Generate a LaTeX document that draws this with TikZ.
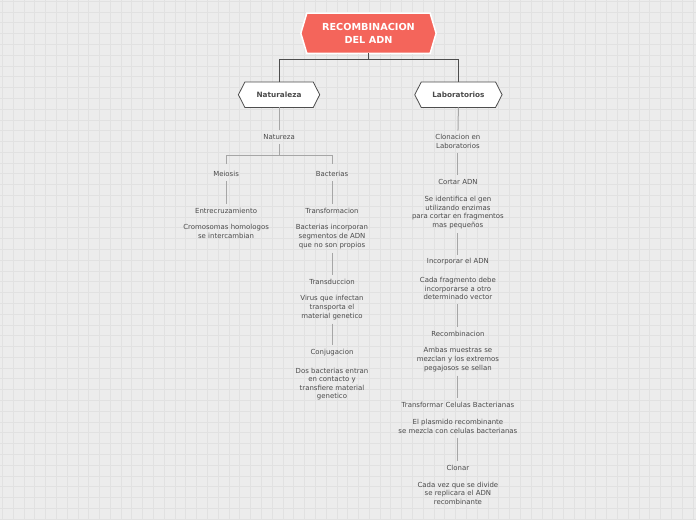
\documentclass[tikz,border=0pt]{standalone}
\usepackage{fontspec}
\setmainfont{DejaVu Sans}
\usetikzlibrary{backgrounds}
\definecolor{bgc}{HTML}{ECECEC}
\definecolor{gridc}{HTML}{E1E1E1}
\definecolor{txtc}{HTML}{4A4A4A}
\definecolor{linec}{HTML}{A6A6A6}
\definecolor{darkc}{HTML}{4D4D4D}
\definecolor{coral}{HTML}{F4655B}
\begin{document}
\begin{tikzpicture}[x=1pt,y=-1pt,
 txt/.style={font=\fontsize{6.95}{8.6}\selectfont,text=txtc,align=center,inner sep=0pt},
 ln/.style={draw=linec,line width=1pt,shorten <=4pt,shorten >=4pt},
 dk/.style={draw=darkc,line width=1.1pt},
 hexred/.style={fill=coral,draw=white,line width=1.5pt},
 hexwhite/.style={fill=white,draw=darkc,line width=0.8pt},
 hexlabel/.style={font=\bfseries\fontsize{7.3}{8}\selectfont,text=txtc,inner sep=0pt,minimum height=25pt}]
\begin{scope}[on background layer]
\fill[bgc] (0,0) rectangle (696,520);
\foreach \i in {0,...,64} \draw[gridc,line width=0.6pt] ({2+10.8*\i},0) -- ({2+10.8*\i},520);
\foreach \j in {0,...,48} \draw[gridc,line width=0.6pt] (0,{0.8+10.8*\j}) -- (696,{0.8+10.8*\j});
\end{scope}
\useasboundingbox (0,0) rectangle (696,520);

% main hexagons
\node[font=\bfseries\fontsize{9.7}{12.3}\selectfont,text=white,align=center,minimum width=135pt,minimum height=40pt,inner sep=0pt] (title) at (368.5,33) {RECOMBINACION\\DEL ADN};
\node[hexlabel,minimum width=81pt] (nat) at (279,94.5) {Naturaleza};
\node[hexlabel,minimum width=87pt] (lab) at (458.5,94.5) {Laboratorios};
\begin{scope}[on background layer]
\draw[hexred] (title.west) -- ([xshift=6pt]title.north west) -- ([xshift=-6pt]title.north east) -- (title.east) -- ([xshift=-6pt]title.south east) -- ([xshift=6pt]title.south west) -- cycle;
\foreach \n in {nat,lab}
  \draw[hexwhite] (\n.west) -- ([xshift=6.5pt]\n.north west) -- ([xshift=-6.5pt]\n.north east) -- (\n.east) -- ([xshift=-6.5pt]\n.south east) -- ([xshift=6.5pt]\n.south west) -- cycle;
\end{scope}
\coordinate (tj) at (368.5,59);
\draw[dk] (title.south) -- (tj);
\draw[dk] (nat.north) |- (tj) -| (lab.north);

% left branch
\node[txt] (natt) at (279,137) {Natureza};
\node[txt] (mei) at (226,174) {Meiosis};
\node[txt] (bac) at (332,174) {Bacterias};
\node[txt] (ent) at (226,211) {Entrecruzamiento};
\node[txt] (entd) at (226,231.5) {Cromosomas homologos\\se intercambian};
\node[txt] (tf) at (332,211) {Transformacion};
\node[txt] (tfd) at (332,236.5) {Bacterias incorporan\\segmentos de ADN\\que no son propios};
\node[txt] (td) at (332,282) {Transduccion};
\node[txt] (tdd) at (332,307.5) {Virus que infectan\\transporta el\\material genetico};
\node[txt] (cj) at (332,353) {Conjugacion};
\node[txt] (cjd) at (332,384) {Dos bacterias entran\\en contacto y\\transfiere material\\genetico};

\draw[ln,shorten <=0pt] (nat.south) -- (natt.north);
\coordinate (brl) at (226,155);
\coordinate (brr) at (332,155);
\draw[ln,shorten >=0pt] (natt.south) -- (natt.south |- brl);
\draw[ln,shorten <=0pt,shorten >=7pt] (brl) -- (mei.north);
\draw[ln,shorten <=0pt,shorten >=7pt] (brr) -- (bac.north);
\draw[ln,shorten <=0pt,shorten >=0pt] (brl) -- (brr);
\draw[ln] (mei.south) -- (ent.north);
\draw[ln] (bac.south) -- (tf.north);
\draw[ln] (tfd.south) -- (td.north);
\draw[ln] (tdd.south) -- (cj.north);

% right branch
\node[txt] (clo) at (458,141.5) {Clonacion en\\Laboratorios};
\node[txt] (cor) at (458,182) {Cortar ADN};
\node[txt] (cord) at (458,212.5) {Se identifica el gen\\utilizando enzimas\\para cortar en fragmentos\\mas pequeños};
\node[txt] (inc) at (458,262) {Incorporar el ADN};
\node[txt] (incd) at (458,288.5) {Cada fragmento debe\\incorporarse a otro\\determinado vector};
\node[txt] (rec) at (458,334) {Recombinacion};
\node[txt] (recd) at (458,359.5) {Ambas muestras se\\mezclan y los extremos\\pegajosos se sellan};
\node[txt] (trn) at (458,405) {Transformar Celulas Bacterianas};
\node[txt] (trnd) at (458,426.5) {El plasmido recombinante\\se mezcla con celulas bacterianas};
\node[txt] (cln) at (458,468) {Clonar};
\node[txt] (clnd) at (458,493.5) {Cada vez que se divide\\se replicara el ADN\\recombinante};

\draw[ln,shorten <=0pt] (lab.south) -- (clo.north);
\draw[ln] (clo.south) -- (cor.north);
\draw[ln] (cord.south) -- (inc.north);
\draw[ln] (incd.south) -- (rec.north);
\draw[ln] (recd.south) -- (trn.north);
\draw[ln] (trnd.south) -- (cln.north);
\end{tikzpicture}
\end{document}
